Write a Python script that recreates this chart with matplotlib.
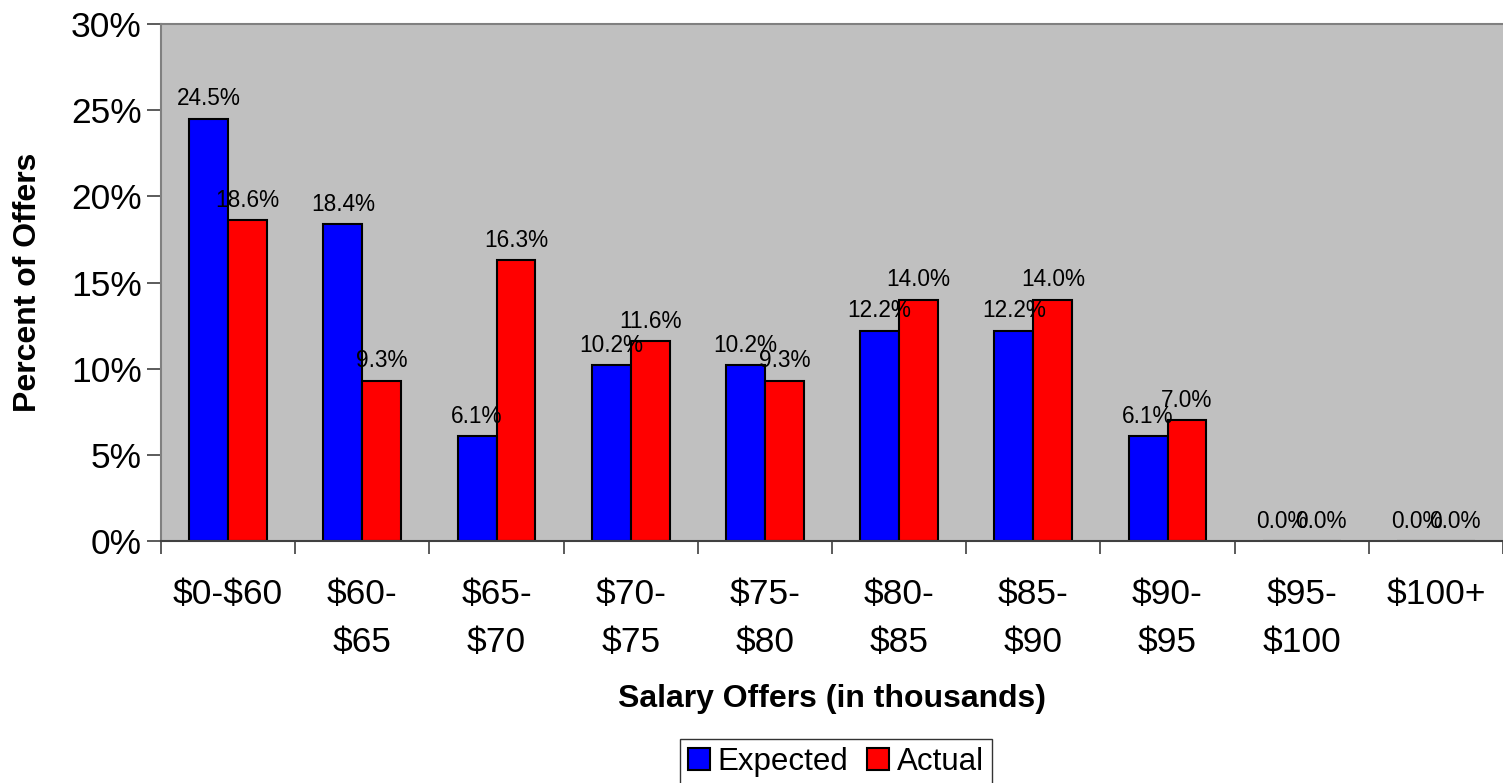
import numpy as np
import matplotlib
matplotlib.use('Agg')
import matplotlib.pyplot as plt

plt.rcParams['font.family'] = ['Liberation Sans', 'DejaVu Sans']
plt.rcParams['text.parse_math'] = False

categories = ['$0-$60', '$60-\n$65', '$65-\n$70', '$70-\n$75', '$75-\n$80',
              '$80-\n$85', '$85-\n$90', '$90-\n$95', '$95-\n$100', '$100+']
expected = [24.5, 18.4, 6.1, 10.2, 10.2, 12.2, 12.2, 6.1, 0.0, 0.0]
actual = [18.6, 9.3, 16.3, 11.6, 9.3, 14.0, 14.0, 7.0, 0.0, 0.0]

fig = plt.figure(figsize=(15.03, 7.83), dpi=100)
ax = fig.add_axes([161 / 1503, 242 / 783, 1 - 161 / 1503, (541 - 24) / 783])
ax.set_facecolor('#C0C0C0')

x = np.arange(len(categories))
w = 0.29
b1 = ax.bar(x - w / 2, expected, w, color='#0000FF', edgecolor='black', linewidth=1.5, label='Expected')
b2 = ax.bar(x + w / 2, actual, w, color='#FF0000', edgecolor='black', linewidth=1.5, label='Actual')

for bars, vals in ((b1, expected), (b2, actual)):
    for r, v in zip(bars, vals):
        ax.annotate(f'{v:.1f}%', (r.get_x() + r.get_width() / 2, v), xytext=(0, 6),
                    textcoords='offset points', ha='center', va='bottom', fontsize=16.3)

ax.set_xlim(-0.5, len(categories) - 0.5)
ax.set_ylim(0, 30)
ax.set_yticks(range(0, 31, 5))
ax.set_yticklabels([f'{v}%' for v in range(0, 31, 5)], fontsize=25.5)
ax.set_xticks(x)
ax.set_xticklabels(categories, fontsize=25.5, linespacing=1.55, va='top')
ax.set_xticks(np.arange(-0.5, len(categories)), minor=True)
ax.tick_params(axis='x', which='major', length=0, pad=27)
ax.tick_params(axis='x', which='minor', length=9, width=1.2, color='#404040')
ax.tick_params(axis='y', length=10, width=1.2, color='#404040', pad=4)

ax.set_xlabel('Salary Offers (in thousands)', fontsize=23, fontweight='bold', labelpad=18)
ax.set_ylabel('Percent of Offers', fontsize=23, fontweight='bold', labelpad=20)

for s in ('top', 'left'):
    ax.spines[s].set_color('#808080')
    ax.spines[s].set_linewidth(1.5)
ax.spines['bottom'].set_color('#404040')
ax.spines['bottom'].set_linewidth(1.5)
ax.spines['right'].set_visible(False)

leg = fig.legend(loc='upper center', bbox_to_anchor=(836 / 1503, 44 / 783), ncol=2,
                 fontsize=22.5, frameon=True, fancybox=False, borderaxespad=0,
                 handlelength=0.7, handleheight=0.7, handletextpad=0.25,
                 columnspacing=0.6, borderpad=0.25)
leg.get_frame().set_edgecolor('black')
leg.get_frame().set_linewidth(1.0)

fig.savefig('out.png', dpi=100)
